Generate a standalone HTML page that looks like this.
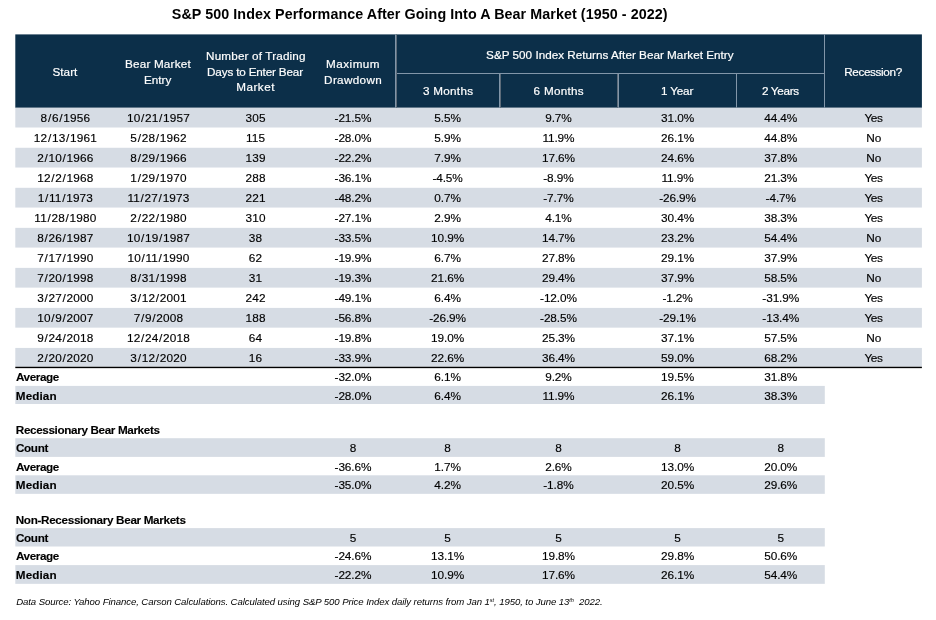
<!DOCTYPE html>
<html lang="en">
<head>
<meta charset="utf-8">
<title>S&amp;P 500 Index Performance After Going Into A Bear Market (1950 - 2022)</title>
<style>
html,body{margin:0;padding:0;background:#fff;}
body{width:936px;height:620px;position:relative;overflow:hidden;font-family:"Liberation Sans",sans-serif;color:#000;}
#bg{position:absolute;left:0;top:0;width:936px;height:620px;display:block;}
.t,.l{position:absolute;white-space:nowrap;line-height:20px;height:20px;}
.t{transform:translateX(-50%);text-align:center;}
.d{font-size:11.8px;-webkit-text-stroke:0.15px #000;}
.dt{letter-spacing:0.17px;}
.dt i{font-style:normal;margin:0 0.57px;}
.p{letter-spacing:-0.1px;}
.n{letter-spacing:0.19px;}
.y{letter-spacing:-0.5px;}
.h{font-size:11.7px;color:#fff;-webkit-text-stroke:0.2px #fff;}
.b{font-size:11.7px;font-weight:bold;-webkit-text-stroke:0.12px #000;}
.ti{font-size:14.3px;font-weight:bold;}
.f{font-size:9.6px;font-style:italic;}
.f sup{font-size:5.6px;line-height:0;vertical-align:baseline;position:relative;top:-3px;}

</style>
</head>
<body>
<svg id="bg" width="936" height="620" viewBox="0 0 936 620">
<rect x="15.3" y="34.4" width="906.6" height="73.4" fill="#0c2f49"/>
<rect x="15.3" y="107.75" width="906.6" height="19.75" fill="#d6dce4"/>
<rect x="15.3" y="147.78" width="906.6" height="19.75" fill="#d6dce4"/>
<rect x="15.3" y="187.81" width="906.6" height="19.75" fill="#d6dce4"/>
<rect x="15.3" y="227.84" width="906.6" height="19.75" fill="#d6dce4"/>
<rect x="15.3" y="267.87" width="906.6" height="19.75" fill="#d6dce4"/>
<rect x="15.3" y="307.90" width="906.6" height="19.75" fill="#d6dce4"/>
<rect x="15.3" y="347.93" width="906.6" height="18.87" fill="#d6dce4"/>
<rect x="15.3" y="385.9" width="809.5" height="18.10" fill="#d6dce4"/>
<rect x="15.3" y="438.2" width="809.5" height="18.70" fill="#d6dce4"/>
<rect x="15.3" y="475.3" width="809.5" height="18.55" fill="#d6dce4"/>
<rect x="15.3" y="528.1" width="809.5" height="18.40" fill="#d6dce4"/>
<rect x="15.3" y="565.1" width="809.5" height="18.75" fill="#d6dce4"/>
<rect x="15.3" y="366.75" width="906.6" height="1.4" fill="#000"/>
<rect x="395" y="34.4" width="1" height="73.4" fill="#8296a9"/><rect x="396" y="34.4" width="1" height="73.4" fill="#5d6c7a"/>
<rect x="824" y="34.4" width="1" height="73.4" fill="#8296a9"/>
<rect x="397" y="73" width="427" height="1" fill="#8296a9"/>
<rect x="499" y="74" width="1" height="33.8" fill="#8296a9"/><rect x="500" y="74" width="1" height="33.8" fill="#5d6c7a"/>
<rect x="617" y="74" width="1" height="33.8" fill="#5d6c7a"/><rect x="618" y="74" width="1" height="33.8" fill="#8296a9"/>
<rect x="736" y="74" width="1" height="33.8" fill="#8296a9"/>
</svg>
<div class="l h" style="left:52.48px;top:62px;letter-spacing:0.050px">Start</div>
<div class="l h" style="left:125.00px;top:54px;letter-spacing:0.197px">Bear Market</div>
<div class="l h" style="left:143.90px;top:70px;letter-spacing:0.062px">Entry</div>
<div class="l h" style="left:206.10px;top:46px;letter-spacing:0.163px">Number of Trading</div>
<div class="l h" style="left:207.10px;top:62px;letter-spacing:-0.165px">Days to Enter Bear</div>
<div class="l h" style="left:236.30px;top:77px;letter-spacing:0.475px">Market</div>
<div class="l h" style="left:326.10px;top:54px;letter-spacing:0.471px">Maximum</div>
<div class="l h" style="left:324.10px;top:70px;letter-spacing:0.343px">Drawdown</div>
<div class="l h" style="left:486.07px;top:45px;letter-spacing:0.020px">S&amp;P 500 Index Returns After Bear Market Entry</div>
<div class="l h" style="left:422.90px;top:81px;letter-spacing:0.296px">3 Months</div>
<div class="l h" style="left:533.57px;top:81px;letter-spacing:0.286px">6 Months</div>
<div class="l h" style="left:660.92px;top:81px;letter-spacing:-0.145px">1 Year</div>
<div class="l h" style="left:761.88px;top:81px;letter-spacing:-0.283px">2 Years</div>
<div class="l h" style="left:844.20px;top:62px;letter-spacing:-0.347px">Recession?</div>
<div class="l b" style="left:15.93px;top:367px;letter-spacing:-0.380px">Average</div>
<div class="l b" style="left:15.85px;top:386px;letter-spacing:0.090px">Median</div>
<div class="l b" style="left:15.80px;top:420px;letter-spacing:-0.356px">Recessionary Bear Markets</div>
<div class="l b" style="left:16.05px;top:438px;letter-spacing:-0.380px">Count</div>
<div class="l b" style="left:15.93px;top:457px;letter-spacing:-0.380px">Average</div>
<div class="l b" style="left:15.85px;top:475px;letter-spacing:0.090px">Median</div>
<div class="l b" style="left:15.75px;top:510px;letter-spacing:-0.325px">Non-Recessionary Bear Markets</div>
<div class="l b" style="left:16.05px;top:528px;letter-spacing:-0.380px">Count</div>
<div class="l b" style="left:15.93px;top:546px;letter-spacing:-0.380px">Average</div>
<div class="l b" style="left:15.85px;top:565px;letter-spacing:0.090px">Median</div>
<div class="l ti" style="left:171.80px;top:4px;letter-spacing:0.072px">S&amp;P 500 Index Performance After Going Into A Bear Market (1950 - 2022)</div>
<div class="l f" style="left:16.15px;top:592px;letter-spacing:-0.089px">Data Source: Yahoo Finance, Carson Calculations. Calculated using S&amp;P 500 Price Index daily returns from Jan 1<sup>st</sup>, 1950, to June 13<sup>th</sup>&nbsp; 2022.</div>
<div class="t d dt" style="left:65.38px;top:108px">8<i>/</i>6<i>/</i>1956</div>
<div class="t d dt" style="left:158.49px;top:108px">10<i>/</i>21<i>/</i>1957</div>
<div class="t d n" style="left:255.59px;top:108px">305</div>
<div class="t d p" style="left:352.95px;top:108px">-21.5%</div>
<div class="t d p" style="left:447.55px;top:108px">5.5%</div>
<div class="t d p" style="left:558.45px;top:108px">9.7%</div>
<div class="t d p" style="left:677.55px;top:108px">31.0%</div>
<div class="t d p" style="left:780.75px;top:108px">44.4%</div>
<div class="t d y" style="left:873.45px;top:108px">Yes</div>
<div class="t d dt" style="left:65.38px;top:128px">12<i>/</i>13<i>/</i>1961</div>
<div class="t d dt" style="left:158.49px;top:128px">5<i>/</i>28<i>/</i>1962</div>
<div class="t d n" style="left:255.59px;top:128px">115</div>
<div class="t d p" style="left:352.95px;top:128px">-28.0%</div>
<div class="t d p" style="left:447.55px;top:128px">5.9%</div>
<div class="t d p" style="left:558.45px;top:128px">11.9%</div>
<div class="t d p" style="left:677.55px;top:128px">26.1%</div>
<div class="t d p" style="left:780.75px;top:128px">44.8%</div>
<div class="t d w" style="left:873.70px;top:128px">No</div>
<div class="t d dt" style="left:65.38px;top:148px">2<i>/</i>10<i>/</i>1966</div>
<div class="t d dt" style="left:158.49px;top:148px">8<i>/</i>29<i>/</i>1966</div>
<div class="t d n" style="left:255.59px;top:148px">139</div>
<div class="t d p" style="left:352.95px;top:148px">-22.2%</div>
<div class="t d p" style="left:447.55px;top:148px">7.9%</div>
<div class="t d p" style="left:558.45px;top:148px">17.6%</div>
<div class="t d p" style="left:677.55px;top:148px">24.6%</div>
<div class="t d p" style="left:780.75px;top:148px">37.8%</div>
<div class="t d w" style="left:873.70px;top:148px">No</div>
<div class="t d dt" style="left:65.38px;top:168px">12<i>/</i>2<i>/</i>1968</div>
<div class="t d dt" style="left:158.49px;top:168px">1<i>/</i>29<i>/</i>1970</div>
<div class="t d n" style="left:255.59px;top:168px">288</div>
<div class="t d p" style="left:352.95px;top:168px">-36.1%</div>
<div class="t d p" style="left:447.55px;top:168px">-4.5%</div>
<div class="t d p" style="left:558.45px;top:168px">-8.9%</div>
<div class="t d p" style="left:677.55px;top:168px">11.9%</div>
<div class="t d p" style="left:780.75px;top:168px">21.3%</div>
<div class="t d y" style="left:873.45px;top:168px">Yes</div>
<div class="t d dt" style="left:65.38px;top:188px">1<i>/</i>11<i>/</i>1973</div>
<div class="t d dt" style="left:158.49px;top:188px">11<i>/</i>27<i>/</i>1973</div>
<div class="t d n" style="left:255.59px;top:188px">221</div>
<div class="t d p" style="left:352.95px;top:188px">-48.2%</div>
<div class="t d p" style="left:447.55px;top:188px">0.7%</div>
<div class="t d p" style="left:558.45px;top:188px">-7.7%</div>
<div class="t d p" style="left:677.55px;top:188px">-26.9%</div>
<div class="t d p" style="left:780.75px;top:188px">-4.7%</div>
<div class="t d y" style="left:873.45px;top:188px">Yes</div>
<div class="t d dt" style="left:65.38px;top:208px">11<i>/</i>28<i>/</i>1980</div>
<div class="t d dt" style="left:158.49px;top:208px">2<i>/</i>22<i>/</i>1980</div>
<div class="t d n" style="left:255.59px;top:208px">310</div>
<div class="t d p" style="left:352.95px;top:208px">-27.1%</div>
<div class="t d p" style="left:447.55px;top:208px">2.9%</div>
<div class="t d p" style="left:558.45px;top:208px">4.1%</div>
<div class="t d p" style="left:677.55px;top:208px">30.4%</div>
<div class="t d p" style="left:780.75px;top:208px">38.3%</div>
<div class="t d y" style="left:873.45px;top:208px">Yes</div>
<div class="t d dt" style="left:65.38px;top:228px">8<i>/</i>26<i>/</i>1987</div>
<div class="t d dt" style="left:158.49px;top:228px">10<i>/</i>19<i>/</i>1987</div>
<div class="t d n" style="left:255.59px;top:228px">38</div>
<div class="t d p" style="left:352.95px;top:228px">-33.5%</div>
<div class="t d p" style="left:447.55px;top:228px">10.9%</div>
<div class="t d p" style="left:558.45px;top:228px">14.7%</div>
<div class="t d p" style="left:677.55px;top:228px">23.2%</div>
<div class="t d p" style="left:780.75px;top:228px">54.4%</div>
<div class="t d w" style="left:873.70px;top:228px">No</div>
<div class="t d dt" style="left:65.38px;top:248px">7<i>/</i>17<i>/</i>1990</div>
<div class="t d dt" style="left:158.49px;top:248px">10<i>/</i>11<i>/</i>1990</div>
<div class="t d n" style="left:255.59px;top:248px">62</div>
<div class="t d p" style="left:352.95px;top:248px">-19.9%</div>
<div class="t d p" style="left:447.55px;top:248px">6.7%</div>
<div class="t d p" style="left:558.45px;top:248px">27.8%</div>
<div class="t d p" style="left:677.55px;top:248px">29.1%</div>
<div class="t d p" style="left:780.75px;top:248px">37.9%</div>
<div class="t d y" style="left:873.45px;top:248px">Yes</div>
<div class="t d dt" style="left:65.38px;top:268px">7<i>/</i>20<i>/</i>1998</div>
<div class="t d dt" style="left:158.49px;top:268px">8<i>/</i>31<i>/</i>1998</div>
<div class="t d n" style="left:255.59px;top:268px">31</div>
<div class="t d p" style="left:352.95px;top:268px">-19.3%</div>
<div class="t d p" style="left:447.55px;top:268px">21.6%</div>
<div class="t d p" style="left:558.45px;top:268px">29.4%</div>
<div class="t d p" style="left:677.55px;top:268px">37.9%</div>
<div class="t d p" style="left:780.75px;top:268px">58.5%</div>
<div class="t d w" style="left:873.70px;top:268px">No</div>
<div class="t d dt" style="left:65.38px;top:288px">3<i>/</i>27<i>/</i>2000</div>
<div class="t d dt" style="left:158.49px;top:288px">3<i>/</i>12<i>/</i>2001</div>
<div class="t d n" style="left:255.59px;top:288px">242</div>
<div class="t d p" style="left:352.95px;top:288px">-49.1%</div>
<div class="t d p" style="left:447.55px;top:288px">6.4%</div>
<div class="t d p" style="left:558.45px;top:288px">-12.0%</div>
<div class="t d p" style="left:677.55px;top:288px">-1.2%</div>
<div class="t d p" style="left:780.75px;top:288px">-31.9%</div>
<div class="t d y" style="left:873.45px;top:288px">Yes</div>
<div class="t d dt" style="left:65.38px;top:308px">10<i>/</i>9<i>/</i>2007</div>
<div class="t d dt" style="left:158.49px;top:308px">7<i>/</i>9<i>/</i>2008</div>
<div class="t d n" style="left:255.59px;top:308px">188</div>
<div class="t d p" style="left:352.95px;top:308px">-56.8%</div>
<div class="t d p" style="left:447.55px;top:308px">-26.9%</div>
<div class="t d p" style="left:558.45px;top:308px">-28.5%</div>
<div class="t d p" style="left:677.55px;top:308px">-29.1%</div>
<div class="t d p" style="left:780.75px;top:308px">-13.4%</div>
<div class="t d y" style="left:873.45px;top:308px">Yes</div>
<div class="t d dt" style="left:65.38px;top:328px">9<i>/</i>24<i>/</i>2018</div>
<div class="t d dt" style="left:158.49px;top:328px">12<i>/</i>24<i>/</i>2018</div>
<div class="t d n" style="left:255.59px;top:328px">64</div>
<div class="t d p" style="left:352.95px;top:328px">-19.8%</div>
<div class="t d p" style="left:447.55px;top:328px">19.0%</div>
<div class="t d p" style="left:558.45px;top:328px">25.3%</div>
<div class="t d p" style="left:677.55px;top:328px">37.1%</div>
<div class="t d p" style="left:780.75px;top:328px">57.5%</div>
<div class="t d w" style="left:873.70px;top:328px">No</div>
<div class="t d dt" style="left:65.38px;top:348px">2<i>/</i>20<i>/</i>2020</div>
<div class="t d dt" style="left:158.49px;top:348px">3<i>/</i>12<i>/</i>2020</div>
<div class="t d n" style="left:255.59px;top:348px">16</div>
<div class="t d p" style="left:352.95px;top:348px">-33.9%</div>
<div class="t d p" style="left:447.55px;top:348px">22.6%</div>
<div class="t d p" style="left:558.45px;top:348px">36.4%</div>
<div class="t d p" style="left:677.55px;top:348px">59.0%</div>
<div class="t d p" style="left:780.75px;top:348px">68.2%</div>
<div class="t d y" style="left:873.45px;top:348px">Yes</div>
<div class="t d p" style="left:352.95px;top:367px">-32.0%</div>
<div class="t d p" style="left:447.55px;top:367px">6.1%</div>
<div class="t d p" style="left:558.45px;top:367px">9.2%</div>
<div class="t d p" style="left:677.55px;top:367px">19.5%</div>
<div class="t d p" style="left:780.75px;top:367px">31.8%</div>
<div class="t d p" style="left:352.95px;top:386px">-28.0%</div>
<div class="t d p" style="left:447.55px;top:386px">6.4%</div>
<div class="t d p" style="left:558.45px;top:386px">11.9%</div>
<div class="t d p" style="left:677.55px;top:386px">26.1%</div>
<div class="t d p" style="left:780.75px;top:386px">38.3%</div>
<div class="t d n" style="left:353.10px;top:438px">8</div>
<div class="t d n" style="left:447.70px;top:438px">8</div>
<div class="t d n" style="left:558.60px;top:438px">8</div>
<div class="t d n" style="left:677.70px;top:438px">8</div>
<div class="t d n" style="left:780.89px;top:438px">8</div>
<div class="t d p" style="left:352.95px;top:457px">-36.6%</div>
<div class="t d p" style="left:447.55px;top:457px">1.7%</div>
<div class="t d p" style="left:558.45px;top:457px">2.6%</div>
<div class="t d p" style="left:677.55px;top:457px">13.0%</div>
<div class="t d p" style="left:780.75px;top:457px">20.0%</div>
<div class="t d p" style="left:352.95px;top:475px">-35.0%</div>
<div class="t d p" style="left:447.55px;top:475px">4.2%</div>
<div class="t d p" style="left:558.45px;top:475px">-1.8%</div>
<div class="t d p" style="left:677.55px;top:475px">20.5%</div>
<div class="t d p" style="left:780.75px;top:475px">29.6%</div>
<div class="t d n" style="left:353.10px;top:528px">5</div>
<div class="t d n" style="left:447.70px;top:528px">5</div>
<div class="t d n" style="left:558.60px;top:528px">5</div>
<div class="t d n" style="left:677.70px;top:528px">5</div>
<div class="t d n" style="left:780.89px;top:528px">5</div>
<div class="t d p" style="left:352.95px;top:546px">-24.6%</div>
<div class="t d p" style="left:447.55px;top:546px">13.1%</div>
<div class="t d p" style="left:558.45px;top:546px">19.8%</div>
<div class="t d p" style="left:677.55px;top:546px">29.8%</div>
<div class="t d p" style="left:780.75px;top:546px">50.6%</div>
<div class="t d p" style="left:352.95px;top:565px">-22.2%</div>
<div class="t d p" style="left:447.55px;top:565px">10.9%</div>
<div class="t d p" style="left:558.45px;top:565px">17.6%</div>
<div class="t d p" style="left:677.55px;top:565px">26.1%</div>
<div class="t d p" style="left:780.75px;top:565px">54.4%</div>
</body>
</html>
